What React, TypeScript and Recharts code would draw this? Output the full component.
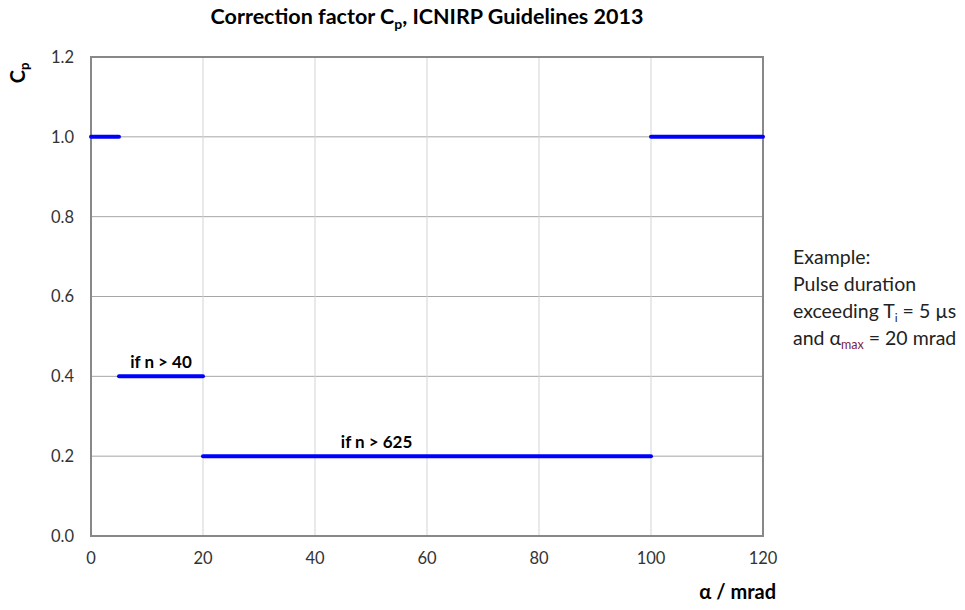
import React from "react";
import {
  LineChart,
  Line,
  XAxis,
  YAxis,
  CartesianGrid,
  ReferenceArea,
  ReferenceDot,
} from "recharts";

const xTicks = [0, 20, 40, 60, 80, 100, 120];
const yTicks = [0, 0.2, 0.4, 0.6, 0.8, 1.0, 1.2];
const segmentX = [
  [0, 5],
  [5, 20],
  [20, 100],
  [100, 120],
];
const segmentCp = [1.0, 0.4, 0.2, 1.0];
const annotationX = [12.5, 51];
const annotationCp = [0.4, 0.2];
const annotationText = ["if n > 40", "if n > 625"];

const FONT = "Lato, 'Open Sans', sans-serif";
const BLUE = "#0000ff";

const segments = segmentX.map((xs, i) =>
  xs.map((x) => ({ x, cp: segmentCp[i] }))
);

export default function App() {
  return (
    <div style={{ position: "absolute", left: 0, top: 0, width: 965, height: 610, background: "#fff" }}>
      <LineChart
        width={965}
        height={610}
        margin={{ top: 57, right: 202, bottom: 44, left: 0 }}
        style={{ fontFamily: FONT }}
      >
        <CartesianGrid horizontal={true} vertical={false} stroke="#a6a6a6" strokeWidth={1} />
        <CartesianGrid horizontal={false} vertical={true} stroke="#d4d4d4" strokeWidth={1} />
        <XAxis
          type="number"
          dataKey="x"
          domain={[0, 120]}
          ticks={xTicks}
          allowDuplicatedCategory={false}
          axisLine={false}
          tickLine={false}
          tickSize={0}
          tickMargin={16}
          height={30}
          tick={{ fill: "#333", fontSize: 16.5, fontFamily: FONT }}
        />
        <YAxis
          type="number"
          dataKey="cp"
          domain={[0, 1.2]}
          ticks={yTicks}
          width={91}
          axisLine={false}
          tickLine={false}
          tickSize={0}
          tickMargin={17}
          tickFormatter={(v: number) => v.toFixed(1)}
          tick={{ fill: "#333", fontSize: 16.5, fontFamily: FONT }}
        />
        <ReferenceArea
          x1={0}
          x2={120}
          y1={0}
          y2={1.2}
          fill="none"
          fillOpacity={0}
          stroke="#888"
          strokeWidth={2}
          ifOverflow="visible"
        />
        {segments.map((d, i) => (
          <Line
            key={i}
            data={d}
            dataKey="cp"
            type="linear"
            stroke={BLUE}
            strokeWidth={4}
            strokeLinecap="round"
            dot={false}
            activeDot={false}
            isAnimationActive={false}
          />
        ))}
        {annotationText.map((t, i) => (
          <ReferenceDot
            key={t}
            x={annotationX[i]}
            y={annotationCp[i]}
            r={0}
            fill="none"
            stroke="none"
            ifOverflow="visible"
            label={{
              value: t,
              position: "top",
              offset: 8,
              fill: "#000",
              fontSize: 17,
              fontWeight: 700,
              fontFamily: FONT,
            }}
          />
        ))}
      </LineChart>
      <svg
        width={965}
        height={610}
        style={{ position: "absolute", left: 0, top: 0, pointerEvents: "none", fontFamily: FONT }}
      >
        <text x={427} y={24} textAnchor="middle" fontSize={21.5} fontWeight={700} fill="#000">
          Correction factor C
          <tspan fontSize={14} dy={5}>p</tspan>
          <tspan dy={-5}>, ICNIRP Guidelines 2013</tspan>
        </text>
        <text
          transform="translate(25,73) rotate(-90)"
          textAnchor="middle"
          fontSize={20}
          fontWeight={700}
          fill="#000"
        >
          C<tspan fontSize={13} dy={4}>p</tspan>
        </text>
        <text x={776} y={599} textAnchor="end" fontSize={20} fontWeight={700} fill="#000">
          α / mrad
        </text>
        <g fontSize={19.5} fill="#222">
          <text x={793} y={264}>Example:</text>
          <text x={793} y={291}>Pulse duration</text>
          <text x={793} y={318}>
            exceeding T<tspan fontSize={12} dy={4}>i</tspan>
            <tspan dy={-4}> = 5 µs</tspan>
          </text>
          <text x={793} y={345}>
            and α<tspan fontSize={12.5} dy={4} fill="#7a1f45">max</tspan>
            <tspan dy={-4}> = 20 mrad</tspan>
          </text>
        </g>
      </svg>
    </div>
  );
}
